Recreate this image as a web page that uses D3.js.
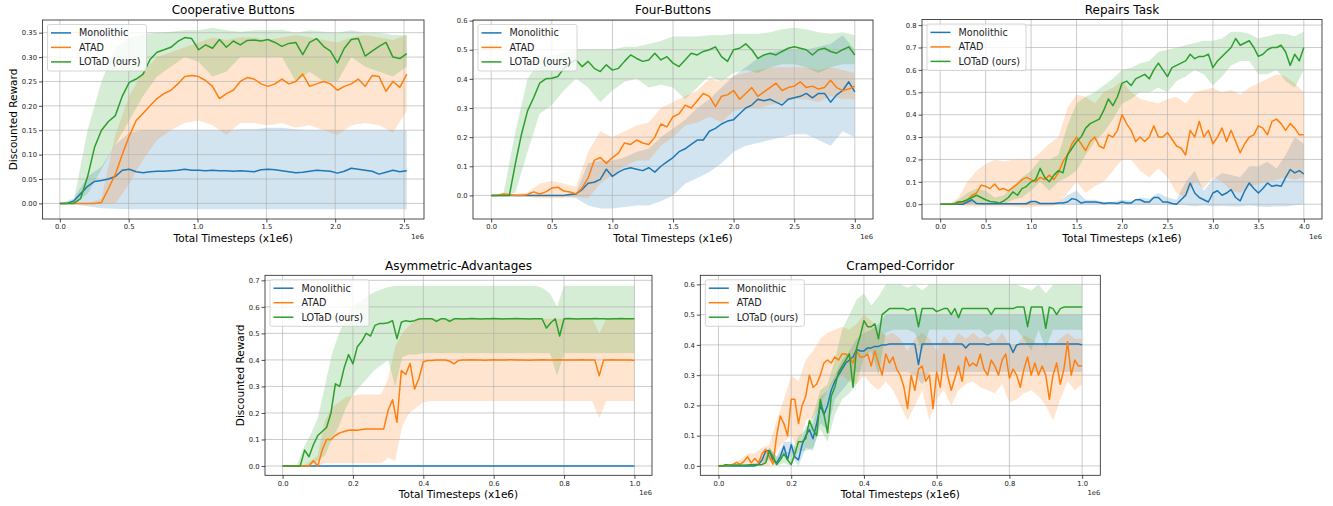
<!DOCTYPE html>
<html>
<head>
<meta charset="utf-8">
<script src="https://cdn.jsdelivr.net/npm/d3@7"></script>
<style>
  body { margin: 0; background: #fff; }
  text { font-family: "DejaVu Sans", sans-serif; }
</style>
</head>
<body>
<script>
// ---- data (timesteps in units of 1e6) ----
const titles = ["Cooperative Buttons", "Four-Buttons", "Repairs Task", "Asymmetric-Advantages", "Cramped-Corridor"];
const methods = ["Monolithic", "ATAD", "LOTaD (ours)"];
const colors = ["#1f77b4", "#ff7f0e", "#2ca02c"];
const maxSteps = [2.52, 3.0, 4.0, 1.0, 1.0];

const xTicksCoop = [0, 0.5, 1.0, 1.5, 2.0, 2.5];
const xTicksFour = [0, 0.5, 1.0, 1.5, 2.0, 2.5, 3.0];
const xTicksRep = [0, 0.5, 1.0, 1.5, 2.0, 2.5, 3.0, 3.5, 4.0];
const xTicksUnit = [0, 0.2, 0.4, 0.6, 0.8, 1.0];
const yTicksCoop = [0, 0.05, 0.10, 0.15, 0.20, 0.25, 0.30, 0.35];
const yTicksFour = [0, 0.1, 0.2, 0.3, 0.4, 0.5, 0.6];
const yTicksRep = [0, 0.1, 0.2, 0.3, 0.4, 0.5, 0.6, 0.7, 0.8];
const yTicksAsym = [0, 0.1, 0.2, 0.3, 0.4, 0.5, 0.6, 0.7];
const yTicksCramp = [0, 0.1, 0.2, 0.3, 0.4, 0.5, 0.6];

// Cooperative Buttons
const coopMono = [0,0,0.005,0.02,0.035,0.045,0.047,0.05,0.055,0.068,0.07,0.065,0.063,0.065,0.066,0.066,0.067,0.068,0.07,0.068,0.068,0.067,0.068,0.067,0.067,0.066,0.067,0.066,0.065,0.069,0.07,0.069,0.067,0.065,0.063,0.064,0.066,0.068,0.067,0.066,0.062,0.066,0.072,0.07,0.068,0.066,0.06,0.064,0.068,0.065,0.067];
const coopAtad = [0,0,0,0,0,0,0.002,0.03,0.06,0.1,0.138,0.17,0.185,0.2,0.215,0.225,0.232,0.245,0.26,0.262,0.26,0.252,0.24,0.215,0.225,0.232,0.25,0.258,0.255,0.245,0.24,0.245,0.255,0.245,0.25,0.265,0.24,0.245,0.25,0.245,0.232,0.24,0.245,0.255,0.24,0.262,0.26,0.23,0.25,0.238,0.265];
const coopLotad = [0,0,0,0.01,0.055,0.115,0.15,0.168,0.18,0.22,0.248,0.255,0.265,0.295,0.31,0.315,0.32,0.332,0.34,0.338,0.315,0.325,0.318,0.336,0.32,0.333,0.325,0.334,0.335,0.333,0.336,0.33,0.322,0.328,0.33,0.305,0.33,0.338,0.322,0.312,0.288,0.318,0.336,0.338,0.302,0.312,0.322,0.33,0.3,0.297,0.307];
const coopMonoLo = [0,-0.002,-0.006,-0.01,-0.011,-0.012,-0.012,-0.012,-0.012,-0.012,-0.012,-0.012,-0.012,-0.012,-0.012,-0.012,-0.012,-0.012,-0.012,-0.012,-0.012,-0.012,-0.012,-0.012,-0.012,-0.012];
const coopMonoHi = [0,0.01,0.055,0.075,0.12,0.145,0.15,0.15,0.15,0.15,0.15,0.15,0.15,0.152,0.152,0.155,0.155,0.152,0.15,0.15,0.15,0.15,0.15,0.15,0.15,0.15];
const coopAtadLo = [0,0,0,-0.002,0,0.04,0.09,0.13,0.15,0.165,0.17,0.16,0.14,0.165,0.165,0.16,0.165,0.155,0.16,0.15,0.14,0.16,0.165,0.16,0.145,0.19];
const coopAtadHi = [0,0,0,0.01,0.14,0.22,0.27,0.3,0.31,0.32,0.33,0.34,0.335,0.34,0.34,0.335,0.34,0.345,0.34,0.335,0.33,0.34,0.345,0.34,0.335,0.345];
const coopLotadLo = [0,0,0.02,0.07,0.12,0.17,0.22,0.26,0.28,0.3,0.29,0.26,0.27,0.3,0.3,0.3,0.3,0.25,0.27,0.25,0.25,0.3,0.28,0.27,0.26,0.28];
const coopLotadHi = [0,0.005,0.15,0.25,0.32,0.34,0.347,0.35,0.352,0.355,0.355,0.36,0.355,0.352,0.355,0.355,0.356,0.35,0.355,0.352,0.35,0.355,0.35,0.35,0.345,0.345];

// Four-Buttons
const fourMono = [0,0,0,0,0,0,0,0,0,0,0,0,0,0.003,0.005,0.02,0.042,0.045,0.055,0.09,0.065,0.08,0.09,0.095,0.09,0.085,0.095,0.08,0.1,0.115,0.13,0.15,0.16,0.175,0.19,0.19,0.22,0.23,0.245,0.255,0.26,0.28,0.3,0.31,0.33,0.325,0.33,0.32,0.31,0.33,0.335,0.34,0.35,0.335,0.35,0.35,0.32,0.345,0.36,0.39,0.355];
const fourAtad = [0,0,0.005,0.002,0,0,0.003,0.012,0.005,0.012,0.025,0.028,0.015,0.012,0.005,0.025,0.06,0.12,0.13,0.11,0.13,0.145,0.18,0.175,0.19,0.18,0.175,0.2,0.245,0.235,0.27,0.28,0.31,0.3,0.325,0.35,0.34,0.305,0.34,0.345,0.36,0.33,0.35,0.37,0.34,0.355,0.37,0.385,0.36,0.37,0.375,0.39,0.37,0.375,0.365,0.37,0.395,0.37,0.36,0.365,0.375];
const fourLotad = [0,0,0,0,0.11,0.21,0.29,0.335,0.385,0.4,0.402,0.408,0.436,0.454,0.465,0.442,0.46,0.436,0.425,0.448,0.43,0.436,0.46,0.482,0.47,0.46,0.465,0.488,0.465,0.476,0.454,0.442,0.465,0.488,0.482,0.494,0.5,0.51,0.476,0.46,0.5,0.505,0.52,0.5,0.47,0.482,0.488,0.482,0.494,0.505,0.51,0.505,0.5,0.482,0.5,0.505,0.494,0.488,0.5,0.51,0.482];
const fourMonoLo = [-0.002,-0.002,-0.002,-0.002,-0.002,-0.002,-0.002,-0.01,-0.035,-0.045,-0.045,-0.04,-0.035,-0.035,-0.02,0,0.04,0.06,0.08,0.11,0.15,0.17,0.18,0.19,0.2,0.21,0.21,0.19,0.17,0.22,0.2];
const fourMonoHi = [0.002,0.002,0.002,0.002,0.002,0.002,0.002,0.01,0.11,0.12,0.12,0.13,0.15,0.16,0.2,0.23,0.26,0.3,0.33,0.37,0.41,0.44,0.47,0.49,0.5,0.5,0.5,0.51,0.52,0.55,0.5];
const fourAtadLo = [0,0,-0.003,-0.005,-0.01,-0.01,-0.01,-0.005,-0.01,0.04,0.07,0.1,0.12,0.12,0.17,0.2,0.24,0.25,0.27,0.25,0.29,0.3,0.3,0.31,0.32,0.33,0.33,0.32,0.34,0.33,0.33];
const fourAtadHi = [0,0.01,0.005,0.01,0.04,0.05,0.04,0.03,0.15,0.22,0.2,0.22,0.24,0.25,0.3,0.32,0.34,0.36,0.4,0.39,0.41,0.42,0.43,0.44,0.44,0.44,0.44,0.43,0.44,0.43,0.42];
const fourLotadLo = [0,0,0.01,0.15,0.28,0.31,0.36,0.4,0.37,0.32,0.36,0.39,0.4,0.37,0.38,0.37,0.33,0.37,0.41,0.39,0.42,0.43,0.42,0.44,0.45,0.45,0.44,0.42,0.44,0.45,0.45];
const fourLotadHi = [0,0.003,0.22,0.4,0.46,0.48,0.49,0.5,0.5,0.5,0.5,0.51,0.51,0.52,0.53,0.545,0.545,0.545,0.55,0.55,0.555,0.555,0.555,0.56,0.57,0.575,0.57,0.56,0.555,0.56,0.55];

// Repairs Task
const repMono = [0,0,0,0,0,0,0.01,0.02,0.003,0.002,0.002,0.002,0.002,0.002,0.002,0.002,0.002,0.002,0.002,0.002,0.012,0.012,0.003,0.003,0.003,0.003,0.005,0.005,0.01,0.025,0.02,0.005,0.01,0.01,0.01,0.008,0.003,0.005,0.005,0.003,0.01,0.005,0.005,0.02,0.02,0.01,0.01,0.03,0.03,0.01,0.01,0.003,0,0.02,0.04,0.095,0.05,0.03,0.02,0.01,0.05,0.06,0.04,0.05,0.065,0.03,0.015,0.06,0.095,0.07,0.05,0.07,0.095,0.08,0.085,0.08,0.12,0.155,0.14,0.15,0.135];
const repAtad = [0,0,0,0,0.005,0.01,0.02,0.04,0.05,0.085,0.08,0.07,0.09,0.065,0.07,0.06,0.075,0.09,0.11,0.12,0.11,0.1,0.12,0.11,0.13,0.11,0.14,0.19,0.22,0.27,0.3,0.27,0.24,0.28,0.3,0.26,0.25,0.31,0.3,0.33,0.4,0.36,0.33,0.28,0.3,0.28,0.3,0.35,0.3,0.3,0.32,0.29,0.26,0.25,0.22,0.33,0.3,0.37,0.3,0.33,0.27,0.3,0.34,0.28,0.33,0.28,0.23,0.27,0.3,0.31,0.35,0.34,0.31,0.37,0.38,0.36,0.33,0.36,0.34,0.31,0.31];
const repLotad = [0,0,0,0,0.01,0.012,0.02,0.03,0.04,0.03,0.02,0.012,0.01,0.005,0.015,0.03,0.055,0.04,0.07,0.08,0.1,0.11,0.16,0.12,0.1,0.13,0.15,0.14,0.22,0.25,0.28,0.3,0.34,0.36,0.37,0.38,0.42,0.47,0.44,0.48,0.54,0.55,0.53,0.56,0.57,0.58,0.56,0.6,0.63,0.6,0.57,0.61,0.62,0.63,0.64,0.67,0.65,0.66,0.66,0.67,0.61,0.64,0.66,0.68,0.7,0.74,0.71,0.72,0.73,0.7,0.66,0.67,0.69,0.7,0.7,0.71,0.68,0.62,0.67,0.64,0.7];
const repMonoLo = [0,0,0,0,-0.002,-0.002,-0.002,-0.002,-0.002,-0.002,-0.002,-0.002,-0.002,-0.002,-0.002,-0.002,-0.002,-0.002,-0.002,-0.002,-0.002,-0.002,-0.002,-0.002,-0.002,-0.002,-0.002,-0.005,-0.01,-0.005,-0.01,-0.008,-0.01,-0.01,-0.005,-0.01,-0.012,-0.01,-0.01,-0.005,0];
const repMonoHi = [0,0,0,0.02,0.01,0.006,0.005,0.005,0.005,0.005,0.015,0.006,0.005,0.008,0.04,0.06,0.02,0.02,0.01,0.01,0.02,0.015,0.03,0.025,0.05,0.03,0.02,0.1,0.15,0.06,0.11,0.14,0.13,0.12,0.17,0.17,0.19,0.16,0.22,0.3,0.27];
const repAtadLo = [0,0,-0.005,-0.01,-0.01,-0.01,-0.01,-0.01,-0.01,-0.015,-0.015,-0.01,-0.01,0,0.05,0.1,0.05,0.08,0.1,0.15,0.2,0.2,0.15,0.12,0.16,0.12,0.05,0.03,0.1,0.07,0.12,0.1,0.06,0.05,0.08,0.09,0.1,0.11,0.12,0.11,0.12];
const repAtadHi = [0,0,0.03,0.1,0.15,0.18,0.2,0.19,0.2,0.2,0.2,0.23,0.27,0.3,0.43,0.49,0.48,0.45,0.5,0.52,0.55,0.5,0.47,0.46,0.45,0.47,0.48,0.45,0.5,0.51,0.52,0.5,0.51,0.49,0.52,0.54,0.56,0.58,0.57,0.54,0.5];
const repLotadLo = [0,0,0,0,0.01,0,0,0,0.02,0.03,0.06,0.1,0.06,0.1,0.12,0.15,0.22,0.28,0.32,0.38,0.45,0.47,0.5,0.5,0.52,0.5,0.55,0.57,0.6,0.58,0.53,0.57,0.62,0.64,0.64,0.58,0.58,0.6,0.55,0.52,0.6];
const repLotadHi = [0,0,0.02,0.05,0.07,0.06,0.03,0.04,0.08,0.12,0.15,0.2,0.2,0.22,0.35,0.45,0.48,0.5,0.53,0.56,0.6,0.61,0.63,0.64,0.68,0.69,0.7,0.71,0.72,0.73,0.73,0.74,0.77,0.77,0.76,0.74,0.75,0.76,0.76,0.75,0.77];

// Asymmetric-Advantages
const asymMono = [0, 0];
const asymAtad = [0,0,0,0,0,0,0,0.02,0,0.06,0.1,0.1,0.115,0.125,0.13,0.135,0.136,0.135,0.138,0.14,0.14,0.14,0.14,0.14,0.21,0.25,0.165,0.36,0.345,0.387,0.29,0.33,0.393,0.398,0.398,0.4,0.4,0.4,0.395,0.385,0.398,0.4,0.4,0.401,0.4,0.4,0.399,0.4,0.401,0.4,0.4,0.4,0.401,0.4,0.4,0.4,0.399,0.4,0.4,0.401,0.4,0.4,0.4,0.401,0.4,0.4,0.4,0.4,0.401,0.4,0.4,0.4,0.34,0.4,0.4,0.401,0.4,0.4,0.4,0.4,0.398];
const asymLotad = [0,0,0,0,0,0.06,0.035,0.08,0.115,0.13,0.145,0.2,0.31,0.3,0.37,0.42,0.385,0.45,0.47,0.5,0.49,0.53,0.537,0.537,0.54,0.548,0.48,0.542,0.548,0.545,0.548,0.554,0.555,0.555,0.555,0.545,0.555,0.555,0.545,0.555,0.555,0.554,0.555,0.556,0.555,0.554,0.555,0.555,0.556,0.555,0.554,0.555,0.555,0.556,0.555,0.555,0.554,0.555,0.555,0.555,0.52,0.54,0.555,0.49,0.555,0.556,0.555,0.554,0.555,0.555,0.555,0.556,0.555,0.555,0.554,0.555,0.555,0.556,0.555,0.555,0.555];
const asymAtadLo = [0,0,0,0,0,0,0.01,0.01,0.01,0.01,0.01,0.01,0.01,0.01,0.01,0.03,0.02,0.15,0.2,0.22,0.24,0.245,0.245,0.245,0.245,0.245,0.245,0.245,0.245,0.245,0.245,0.245,0.245,0.245,0.245,0.245,0.245,0.245,0.245,0.245,0.245,0.245,0.245,0.245,0.245,0.18,0.245,0.245,0.245,0.245,0.245];
const asymAtadHi = [0,0,0,0,0.02,0.04,0.17,0.22,0.24,0.26,0.265,0.27,0.27,0.27,0.27,0.33,0.45,0.5,0.53,0.55,0.555,0.555,0.555,0.555,0.555,0.555,0.555,0.555,0.555,0.555,0.555,0.555,0.555,0.555,0.555,0.555,0.555,0.555,0.555,0.555,0.555,0.555,0.555,0.555,0.555,0.5,0.555,0.555,0.555,0.555,0.555];
const asymLotadLo = [0,0,0,0,0.005,0.02,0.04,0.1,0.15,0.22,0.27,0.3,0.33,0.36,0.38,0.4,0.3,0.41,0.42,0.42,0.425,0.425,0.425,0.425,0.425,0.425,0.425,0.425,0.425,0.425,0.425,0.425,0.425,0.425,0.425,0.425,0.425,0.425,0.425,0.34,0.425,0.425,0.425,0.425,0.425,0.425,0.425,0.425,0.425,0.425,0.425];
const asymLotadHi = [0,0,0,0.07,0.12,0.18,0.3,0.42,0.5,0.56,0.6,0.62,0.64,0.655,0.665,0.675,0.68,0.68,0.68,0.68,0.68,0.68,0.68,0.68,0.68,0.68,0.68,0.68,0.68,0.68,0.68,0.68,0.68,0.68,0.68,0.68,0.68,0.67,0.65,0.6,0.68,0.68,0.68,0.68,0.68,0.68,0.68,0.68,0.68,0.68,0.68];

// Cramped-Corridor
const crampMono = [0,0,0,0,0,0,0,0,0,0,0,0.005,0.02,0.05,0.05,0.02,0.01,0.03,0.065,0.02,0.07,0.03,0.02,0.07,0.1,0.12,0.09,0.14,0.2,0.17,0.2,0.25,0.28,0.3,0.32,0.34,0.35,0.36,0.385,0.38,0.38,0.39,0.39,0.395,0.395,0.4,0.4,0.403,0.403,0.403,0.403,0.403,0.403,0.403,0.403,0.335,0.403,0.403,0.403,0.403,0.403,0.403,0.403,0.403,0.403,0.403,0.403,0.403,0.39,0.403,0.403,0.403,0.403,0.403,0.4,0.403,0.403,0.403,0.403,0.403,0.403,0.375,0.4,0.403,0.403,0.403,0.403,0.403,0.403,0.403,0.403,0.403,0.403,0.403,0.403,0.403,0.403,0.403,0.403,0.403,0.4];
const crampAtad = [0,0,0.002,0,0.005,0.012,0.005,0.015,0.03,0.01,0.025,0.01,0.04,0.055,0.03,0.005,0.1,0.165,0.14,0.1,0.22,0.22,0.14,0.2,0.23,0.3,0.26,0.27,0.3,0.34,0.35,0.34,0.36,0.35,0.37,0.37,0.36,0.34,0.38,0.36,0.36,0.37,0.33,0.38,0.34,0.3,0.37,0.34,0.36,0.32,0.3,0.26,0.19,0.3,0.25,0.32,0.33,0.28,0.3,0.19,0.31,0.26,0.37,0.3,0.25,0.29,0.33,0.28,0.36,0.33,0.34,0.33,0.37,0.32,0.3,0.35,0.33,0.3,0.35,0.37,0.29,0.32,0.3,0.26,0.32,0.36,0.3,0.34,0.3,0.33,0.3,0.22,0.3,0.34,0.27,0.32,0.41,0.3,0.35,0.33,0.33];
const crampLotad = [0,0,0.004,0.003,0.002,0.003,0.002,0.002,0.003,0.004,0.005,0.004,0.005,0.01,0.05,0.03,0.005,0.02,0.04,0.02,0.005,0.04,0.08,0.08,0.09,0.15,0.12,0.1,0.22,0.17,0.11,0.23,0.26,0.31,0.33,0.35,0.37,0.26,0.39,0.43,0.48,0.46,0.46,0.47,0.42,0.5,0.51,0.52,0.52,0.52,0.52,0.52,0.515,0.52,0.52,0.46,0.52,0.52,0.52,0.52,0.51,0.515,0.52,0.52,0.5,0.52,0.49,0.52,0.52,0.52,0.52,0.52,0.52,0.52,0.52,0.5,0.52,0.52,0.52,0.52,0.52,0.52,0.525,0.525,0.525,0.46,0.525,0.525,0.525,0.525,0.455,0.525,0.52,0.5,0.52,0.525,0.525,0.525,0.525,0.525,0.525];
const crampMonoLo = [0,0,0,0,0,0,0.01,0.03,0,0.04,0.04,0,0.06,0.05,0.14,0.12,0.22,0.25,0.28,0.31,0.31,0.31,0.31,0.31,0.31,0.31,0.31,0.3,0.27,0.31,0.31,0.31,0.31,0.31,0.31,0.31,0.31,0.31,0.31,0.31,0.31,0.31,0.31,0.31,0.31,0.31,0.31,0.31,0.31,0.31,0.31];
const crampMonoHi = [0.003,0.003,0.003,0.003,0.003,0.003,0.03,0.06,0.03,0.08,0.08,0.05,0.13,0.14,0.23,0.25,0.3,0.35,0.38,0.42,0.44,0.45,0.47,0.5,0.5,0.5,0.5,0.5,0.5,0.5,0.5,0.5,0.5,0.5,0.5,0.5,0.5,0.5,0.5,0.5,0.5,0.5,0.5,0.5,0.5,0.5,0.5,0.5,0.5,0.5,0.5];
const crampAtadLo = [0,0,0,0,0,0,0,0,0.05,0.08,0.1,0.05,0.15,0.16,0.2,0.25,0.28,0.3,0.28,0.27,0.3,0.27,0.25,0.28,0.25,0.2,0.15,0.2,0.25,0.15,0.22,0.25,0.2,0.25,0.27,0.28,0.26,0.25,0.24,0.27,0.21,0.22,0.24,0.25,0.23,0.2,0.15,0.22,0.28,0.25,0.27];
const crampAtadHi = [0,0,0.01,0.02,0.04,0.04,0.06,0.07,0.15,0.22,0.3,0.28,0.35,0.38,0.42,0.44,0.45,0.46,0.45,0.47,0.5,0.48,0.45,0.43,0.44,0.42,0.38,0.42,0.44,0.42,0.38,0.43,0.4,0.44,0.42,0.44,0.42,0.43,0.41,0.44,0.4,0.4,0.43,0.42,0.4,0.4,0.4,0.42,0.44,0.42,0.42];
const crampLotadLo = [0,0,0,0,0,0,0,0.02,0,0.01,0,0.05,0.05,0.06,0.12,0.08,0.17,0.22,0.24,0.27,0.36,0.38,0.3,0.44,0.45,0.45,0.45,0.44,0.38,0.45,0.45,0.45,0.45,0.45,0.45,0.45,0.45,0.43,0.45,0.45,0.45,0.45,0.42,0.38,0.45,0.39,0.45,0.45,0.45,0.45,0.45];
const crampLotadHi = [0.005,0.005,0.005,0.005,0.005,0.005,0.005,0.06,0.03,0.05,0.04,0.1,0.12,0.17,0.25,0.27,0.35,0.45,0.5,0.55,0.57,0.53,0.56,0.6,0.6,0.6,0.59,0.6,0.58,0.6,0.6,0.6,0.6,0.6,0.6,0.6,0.6,0.6,0.6,0.6,0.6,0.6,0.59,0.58,0.6,0.57,0.6,0.6,0.6,0.6,0.6];

// ---- layout ----
const width = 1333;
const height = 506;

const panels = [
  { box: { x: 42.5, y: 20, w: 381.5, h: 199 }, xDom: [-0.126, 2.645], yDom: [-0.032, 0.376],
    xTicks: xTicksCoop, yTicks: yTicksCoop, yFmt: ".2f", yLabelX: 13.5,
    series: [[coopMono, coopMonoLo, coopMonoHi], [coopAtad, coopAtadLo, coopAtadHi], [coopLotad, coopLotadLo, coopLotadHi]] },
  { box: { x: 473, y: 20, w: 400, h: 199 }, xDom: [-0.15, 3.15], yDom: [-0.081, 0.602],
    xTicks: xTicksFour, yTicks: yTicksFour, yFmt: ".1f",
    series: [[fourMono, fourMonoLo, fourMonoHi], [fourAtad, fourAtadLo, fourAtadHi], [fourLotad, fourLotadLo, fourLotadHi]] },
  { box: { x: 922, y: 19.5, w: 400, h: 199.5 }, xDom: [-0.2, 4.2], yDom: [-0.066, 0.825],
    xTicks: xTicksRep, yTicks: yTicksRep, yFmt: ".1f",
    series: [[repMono, repMonoLo, repMonoHi], [repAtad, repAtadLo, repAtadHi], [repLotad, repLotadLo, repLotadHi]] },
  { box: { x: 265, y: 275.3, w: 387, h: 200 }, xDom: [-0.05, 1.05], yDom: [-0.035, 0.719],
    xTicks: xTicksUnit, yTicks: yTicksAsym, yFmt: ".1f", yLabelX: 240,
    series: [[asymMono, null, null], [asymAtad, asymAtadLo, asymAtadHi], [asymLotad, asymLotadLo, asymLotadHi]] },
  { box: { x: 700.3, y: 275.3, w: 400, h: 200 }, xDom: [-0.05, 1.05], yDom: [-0.031, 0.63],
    xTicks: xTicksUnit, yTicks: yTicksCramp, yFmt: ".1f",
    series: [[crampMono, crampMonoLo, crampMonoHi], [crampAtad, crampAtadLo, crampAtadHi], [crampLotad, crampLotadLo, crampLotadHi]] }
];

const svg = d3.select("body")
  .append("svg")
  .attr("width", width)
  .attr("height", height);

panels.forEach((p, pi) => {
  const { x: bx, y: by, w, h } = p.box;
  const tMax = maxSteps[pi];
  const g = svg.append("g").attr("transform", `translate(${bx},${by})`);

  const x = d3.scaleLinear().domain(p.xDom).range([0, w]);
  const y = d3.scaleLinear().domain(p.yDom).range([h, 0]);
  const stepOf = arr => tMax / (arr.length - 1);

  // shaded spread
  p.series.forEach(([mean, lo, hi], k) => {
    if (!lo) return;
    const band = lo.map((v, i) => ({ t: i * stepOf(lo), lo: v, hi: hi[i] }));
    g.append("path")
      .datum(band)
      .attr("d", d3.area().x(d => x(d.t)).y0(d => y(d.lo)).y1(d => y(d.hi)))
      .attr("fill", colors[k])
      .attr("fill-opacity", 0.2);
  });

  // grid
  g.append("g").selectAll("line")
    .data(p.xTicks)
    .join("line")
    .attr("x1", d => x(d)).attr("x2", d => x(d))
    .attr("y1", 0).attr("y2", h)
    .attr("stroke", "#b0b0b0").attr("stroke-opacity", 0.65).attr("stroke-width", 1);
  g.append("g").selectAll("line")
    .data(p.yTicks)
    .join("line")
    .attr("y1", d => y(d)).attr("y2", d => y(d))
    .attr("x1", 0).attr("x2", w)
    .attr("stroke", "#b0b0b0").attr("stroke-opacity", 0.65).attr("stroke-width", 1);

  // mean curves
  p.series.forEach(([mean], k) => {
    const pts = mean.map((v, i) => [i * stepOf(mean), v]);
    g.append("path")
      .datum(pts)
      .attr("d", d3.line().x(d => x(d[0])).y(d => y(d[1])))
      .attr("fill", "none")
      .attr("stroke", colors[k])
      .attr("stroke-width", 1.5)
      .attr("stroke-linejoin", "round");
  });

  // frame
  g.append("rect")
    .attr("width", w).attr("height", h)
    .attr("fill", "none").attr("stroke", "#222").attr("stroke-width", 0.8);

  // axes
  const xAxis = g.append("g")
    .attr("transform", `translate(0,${h})`)
    .call(d3.axisBottom(x).tickValues(p.xTicks).tickFormat(d3.format(".1f")).tickSize(3.5).tickPadding(2));
  const yAxis = g.append("g")
    .call(d3.axisLeft(y).tickValues(p.yTicks).tickFormat(d3.format(p.yFmt)).tickSize(3.5).tickPadding(2));
  [xAxis, yAxis].forEach(a => {
    a.select(".domain").remove();
    a.attr("font-family", "DejaVu Sans").attr("font-size", 6.8);
    a.selectAll("line").attr("stroke", "#222").attr("stroke-width", 0.8);
    a.selectAll("text").attr("fill", "#222");
  });

  // offset text
  g.append("text")
    .attr("x", w).attr("y", h + 20)
    .attr("text-anchor", "end")
    .attr("font-size", 6.8).attr("fill", "#222")
    .text("1e6");

  // title and labels
  g.append("text")
    .attr("x", w / 2).attr("y", -5.7)
    .attr("text-anchor", "middle")
    .attr("font-size", 12)
    .text(titles[pi]);

  g.append("text")
    .attr("x", w / 2).attr("y", h + 23)
    .attr("text-anchor", "middle")
    .attr("font-size", 10.5)
    .text("Total Timesteps (x1e6)");

  if (p.yLabelX !== undefined) {
    svg.append("text")
      .attr("transform", `translate(${p.yLabelX},${by + h / 2}) rotate(-90)`)
      .attr("dy", "0.35em")
      .attr("text-anchor", "middle")
      .attr("font-size", 10.5)
      .text("Discounted Reward");
  }

  // legend
  const lg = g.append("g").attr("transform", "translate(5,4.5)");
  lg.append("rect")
    .attr("width", 99).attr("height", 46.5).attr("rx", 2)
    .attr("fill", "#fff").attr("fill-opacity", 0.8)
    .attr("stroke", "#cccccc").attr("stroke-width", 0.8);
  methods.forEach((m, k) => {
    const ry = 8.4 + k * 14.5;
    lg.append("line")
      .attr("x1", 3.5).attr("x2", 23.5).attr("y1", ry).attr("y2", ry)
      .attr("stroke", colors[k]).attr("stroke-width", 1.5);
    lg.append("text")
      .attr("x", 31.5).attr("y", ry + 3.4)
      .attr("font-size", 9.6).attr("fill", "#222")
      .text(m);
  });
});
</script>
</body>
</html>
